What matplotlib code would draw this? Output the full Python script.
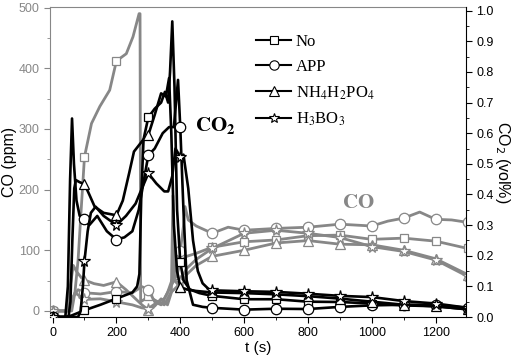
import numpy as np
import matplotlib
matplotlib.use('Agg')
import matplotlib.pyplot as plt
from matplotlib.lines import Line2D
from matplotlib.ticker import MultipleLocator, FormatStrFormatter

plt.rcParams['font.family'] = ['Liberation Sans', 'DejaVu Sans']
plt.rcParams['mathtext.fontset'] = 'stix'

GRAY = '#878787'

# CO2 (vol%), black curves, right axis
t_no2 = [0, 40, 60, 100, 150, 200, 250, 265, 272, 278, 285, 300, 320, 340, 352, 362, 368, 375, 382, 390, 400, 410, 430, 460, 500, 600, 700, 800, 900, 1000, 1100, 1200, 1300]
v_no2 = [0, 0, 0.005, 0.022, 0.04, 0.06, 0.08, 0.1, 0.14, 0.4, 0.58, 0.652, 0.68, 0.7, 0.735, 0.7, 0.8, 0.965, 0.75, 0.35, 0.18, 0.12, 0.09, 0.078, 0.069, 0.058, 0.058, 0.05, 0.049, 0.044, 0.038, 0.035, 0.025]

t_app2 = [0, 40, 48, 55, 61, 67, 75, 85, 100, 115, 140, 170, 200, 225, 250, 270, 290, 300, 320, 345, 365, 380, 393, 400, 410, 420, 440, 470, 500, 600, 700, 800, 900, 1000, 1100, 1200, 1300]
v_app2 = [0, 0, 0.1, 0.45, 0.648, 0.5, 0.38, 0.33, 0.32, 0.3, 0.33, 0.28, 0.253, 0.26, 0.28, 0.35, 0.47, 0.528, 0.55, 0.6, 0.62, 0.62, 0.774, 0.62, 0.35, 0.12, 0.04, 0.033, 0.03, 0.024, 0.027, 0.026, 0.033, 0.038, 0.04, 0.04, 0.03]

t_nh2 = [0, 50, 56, 62, 68, 73, 85, 100, 115, 132, 160, 200, 220, 240, 255, 270, 285, 300, 320, 340, 355, 365, 372, 380, 390, 400, 420, 450, 500, 600, 700, 800, 900, 1000, 1100, 1200, 1300]
v_nh2 = [0, 0, 0.05, 0.25, 0.42, 0.447, 0.44, 0.434, 0.4, 0.36, 0.34, 0.332, 0.38, 0.47, 0.54, 0.56, 0.58, 0.594, 0.66, 0.73, 0.72, 0.78, 0.6, 0.3, 0.15, 0.098, 0.09, 0.085, 0.08, 0.078, 0.074, 0.068, 0.06, 0.05, 0.04, 0.035, 0.025]

t_hb2 = [0, 80, 88, 95, 100, 110, 120, 135, 160, 200, 230, 260, 280, 300, 325, 350, 362, 375, 385, 400, 410, 425, 440, 455, 470, 490, 500, 600, 700, 800, 900, 1000, 1100, 1200, 1300]
v_hb2 = [0, 0, 0.02, 0.1, 0.183, 0.28, 0.34, 0.36, 0.33, 0.30, 0.33, 0.37, 0.42, 0.469, 0.436, 0.41, 0.41, 0.46, 0.55, 0.523, 0.53, 0.42, 0.25, 0.15, 0.11, 0.09, 0.087, 0.084, 0.082, 0.076, 0.069, 0.065, 0.052, 0.044, 0.03]

# CO (ppm), gray curves, left axis
t_no = [0, 50, 60, 70, 80, 90, 100, 122, 148, 179, 200, 231, 252, 271, 274, 276, 290, 300, 330, 350, 370, 390, 400, 420, 450, 500, 600, 700, 800, 900, 1000, 1100, 1200, 1300]
c_no = [0, 0, 0, 30, 84, 170, 254, 309, 337, 364, 412, 424, 452, 490, 490, 15, 20, 24, 15, 20, 40, 60, 80, 90, 95, 105, 114, 117, 124, 125, 118, 120, 115, 103]

t_app = [0, 50, 60, 80, 100, 150, 200, 250, 280, 300, 320, 340, 360, 380, 400, 410, 415, 425, 450, 500, 550, 600, 700, 800, 900, 1000, 1050, 1100, 1150, 1200, 1250, 1300]
c_app = [0, 0, 20, 35, 30, 28, 32, 30, 40, 35, 15, 10, 30, 60, 98, 140, 172, 150, 140, 128, 138, 133, 136, 138, 143, 140, 148, 153, 163, 151, 150, 146]

t_nh = [0, 45, 55, 65, 75, 90, 100, 130, 160, 200, 230, 260, 280, 300, 320, 340, 360, 372, 377, 382, 400, 420, 450, 500, 600, 700, 800, 900, 1000, 1100, 1200, 1300]
c_nh = [0, 0, 40, 75, 65, 55, 51, 45, 42, 48, 35, 20, 10, 2, 8, 20, 10, 30, 190, 50, 40, 60, 75, 90, 100, 112, 116, 110, 109, 100, 86, 60]

t_hb = [0, 45, 55, 70, 100, 150, 200, 250, 280, 300, 330, 350, 370, 390, 400, 420, 450, 500, 600, 700, 800, 900, 1000, 1100, 1200, 1300]
c_hb = [0, 0, 10, 30, 19, 20, 15, 10, 5, 4, 15, 10, 30, 40, 50, 70, 85, 103, 128, 133, 128, 121, 106, 98, 84, 57]

labels = ['No', 'APP', r'NH$_4$H$_2$PO$_4$', r'H$_3$BO$_3$']
markers = [('s', 6), ('o', 7.5), ('^', 7.5), ('*', 8.5)]


def draw(a, t, y, color, mk, lw):
    t = np.array(t)
    a.plot(t, y, '-', color=color, lw=lw, marker=mk[0], ms=mk[1],
           markevery=list(t % 100 == 0), mfc='white', mec=color, mew=0.9)


fig = plt.figure(figsize=(5.2, 3.6), dpi=100)
ax = fig.add_axes([50/520, 43/360, 416/520, 310/360])
ax2 = ax.twinx()

for t, c, mk in zip([t_no, t_app, t_nh, t_hb], [c_no, c_app, c_nh, c_hb], markers):
    draw(ax, t, c, GRAY, mk, 2.0)
for t, v, mk in zip([t_no2, t_app2, t_nh2, t_hb2], [v_no2, v_app2, v_nh2, v_hb2], markers):
    draw(ax2, t, v, 'black', mk, 1.9)

ax.set_xlim(-8, 1295)
ax.set_ylim(-10, 501)
ax2.set_ylim(0, 1.012)

ax.xaxis.set_major_locator(MultipleLocator(200))
ax.xaxis.set_minor_locator(MultipleLocator(100))
ax.yaxis.set_major_locator(MultipleLocator(100))
ax.yaxis.set_minor_locator(MultipleLocator(50))
ax2.yaxis.set_major_locator(MultipleLocator(0.1))
ax2.yaxis.set_minor_locator(MultipleLocator(0.05))
ax2.yaxis.set_major_formatter(FormatStrFormatter('%.1f'))

ax.tick_params(axis='x', which='both', direction='out', labelsize=9, colors='black')
ax.tick_params(axis='x', which='major', length=4)
ax.tick_params(axis='x', which='minor', length=2)
ax.tick_params(axis='y', which='both', direction='out', labelsize=9, colors=GRAY)
ax.tick_params(axis='y', which='major', length=4)
ax.tick_params(axis='y', which='minor', length=2)
ax2.tick_params(axis='y', which='both', direction='out', labelsize=9)
ax2.tick_params(axis='y', which='major', length=4)
ax2.tick_params(axis='y', which='minor', length=2)

ax.spines['left'].set_color(GRAY)
ax.spines['top'].set_color(GRAY)
ax.spines['right'].set_visible(False)
for s in ['left', 'top', 'bottom']:
    ax2.spines[s].set_visible(False)

ax.set_xlabel('t (s)', fontsize=11, labelpad=1)
ax.set_ylabel('CO (ppm)', fontsize=11.5, labelpad=1)
ax2.set_ylabel(r'CO$_2$ (vol%)', fontsize=11.5, rotation=270, labelpad=13,
               math_fontfamily='dejavusans')

ax.text(445, 305, r'$\mathbf{CO_2}$', fontsize=15, va='center', ha='left')
ax.text(906, 178, r'$\mathbf{CO}$', fontsize=15, va='center', ha='left', color=GRAY)

handles = [Line2D([], [], color='black', lw=1.5, marker=m, ms=s * 0.9, mfc='white', mec='black', mew=0.8)
           for m, s in markers]
ax2.legend(handles, labels, loc='upper left', bbox_to_anchor=(256/520, 326/360),
           bbox_transform=fig.transFigure, frameon=False, borderpad=0, borderaxespad=0,
           handlelength=2.1, handletextpad=0.3, labelspacing=0.55,
           prop={'family': 'Liberation Serif', 'size': 12})

fig.savefig('out.png', dpi=100)
